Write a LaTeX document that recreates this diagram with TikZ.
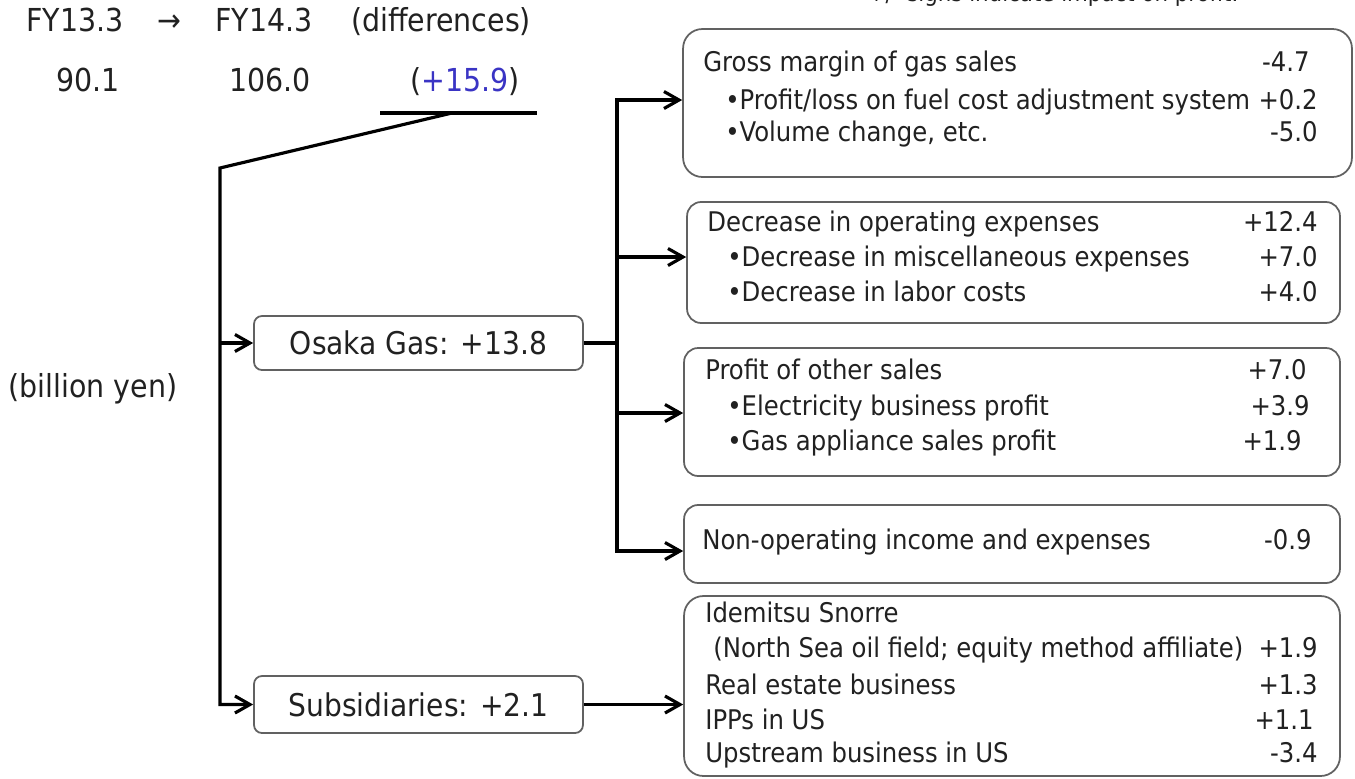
\documentclass[tikz,border=0pt]{standalone}
\usepackage{fontspec}
\setmainfont{DejaVu Sans Condensed}
\usepackage{xcolor}
\usepackage{tikz}
\usetikzlibrary{arrows.meta,positioning,calc}
\definecolor{boxgray}{gray}{0.38}
\definecolor{inkdark}{gray}{0.13}
\definecolor{diffblue}{RGB}{58,52,196}
\tikzset{
  sumbox/.style={draw=boxgray, line width=1pt, rounded corners=4.5pt,
                 minimum width=6.58cm, font=\fontsize{17.8}{21}\selectfont,
                 text=inkdark},
  itembox/.style={draw=boxgray, line width=1pt, rounded corners=8pt,
                  minimum width=13.12cm},
  conn/.style={line width=1.8pt, black},
  arr/.style={conn, -{Straight Barb[length=3mm, width=3.4mm]}},
  rowtxt/.style={font=\fontsize{15.4}{18}\selectfont, text=inkdark, inner sep=0pt},
  hdrtxt/.style={font=\fontsize{18}{21}\selectfont, text=inkdark, inner sep=0pt,
                 anchor=mid},
  notetxt/.style={font=\fontsize{13.5}{16}\selectfont, text=inkdark, inner sep=0pt,
                  anchor=mid}
}

\begin{document}
\begin{tikzpicture}[x=0.02cm, y=-0.02cm]
    \useasboundingbox (0,0) rectangle (1355,778);

    % header
    \node[notetxt] (note) at (1053,-3) {+/- signs indicate impact on profit.};
    \node[hdrtxt] (fya)  at (75,27)  {FY13.3};
    \node[hdrtxt] (fyto) at (169,27) {→};
    \node[hdrtxt] (fyb)  at (264,27) {FY14.3};
    \node[hdrtxt] (dif)  at (441,27) {(differences)};
    \node[hdrtxt] (vala) at (88,87)  {90.1};
    \node[hdrtxt] (valb) at (270,87) {106.0};
    \node[hdrtxt] (vald) at (465,87) {(\textcolor{diffblue}{+15.9})};
    \node[hdrtxt] (unit) at (93,393) {(billion yen)};

    % summary boxes
    \node[sumbox, minimum height=1.08cm] (osk) at (418.5,343)   {Osaka Gas: +13.8};
    \node[sumbox, minimum height=1.14cm] (sbs) at (418.5,704.5) {Subsidiaries: +2.1};

    % item boxes
    \node[itembox, rounded corners=11pt, minimum width=13.38cm, minimum height=2.96cm]
      (gms) at (1017.5,103) {};
    \node[itembox, minimum width=13.06cm, minimum height=2.42cm] (opx) at (1013.5,262.5) {};
    \node[itembox, minimum height=2.56cm] (oth) at (1012,412) {};
    \node[itembox, minimum height=1.56cm] (nop) at (1012,544) {};
    \node[itembox, rounded corners=11pt, minimum height=3.6cm] (aff) at (1012,686) {};

    % rows: gross margin
    \node[rowtxt, anchor=mid west] (gmsa)  at (703,67)   {Gross margin of gas sales};
    \node[rowtxt, anchor=mid east] (gmsav) at (1310,67)  {-4.7};
    \node[rowtxt, anchor=mid west] (gmsb)  at (725,105)  {•Profit/loss on fuel cost adjustment system};
    \node[rowtxt, anchor=mid east] (gmsbv) at (1318,105) {+0.2};
    \node[rowtxt, anchor=mid west] (gmsc)  at (725,137)  {•Volume change, etc.};
    \node[rowtxt, anchor=mid east] (gmscv) at (1318,137) {-5.0};

    % rows: operating expenses
    \node[rowtxt, anchor=mid west] (opxa)  at (707,227)  {Decrease in operating expenses};
    \node[rowtxt, anchor=mid east] (opxav) at (1318,227) {+12.4};
    \node[rowtxt, anchor=mid west] (opxb)  at (727,262)  {•Decrease in miscellaneous expenses};
    \node[rowtxt, anchor=mid east] (opxbv) at (1318,262) {+7.0};
    \node[rowtxt, anchor=mid west] (opxc)  at (727,297)  {•Decrease in labor costs};
    \node[rowtxt, anchor=mid east] (opxcv) at (1318,297) {+4.0};

    % rows: other sales
    \node[rowtxt, anchor=mid west] (otha)  at (705,375)  {Profit of other sales};
    \node[rowtxt, anchor=mid east] (othav) at (1307,375) {+7.0};
    \node[rowtxt, anchor=mid west] (othb)  at (727,411)  {•Electricity business profit};
    \node[rowtxt, anchor=mid east] (othbv) at (1310,411) {+3.9};
    \node[rowtxt, anchor=mid west] (othc)  at (727,446)  {•Gas appliance sales profit};
    \node[rowtxt, anchor=mid east] (othcv) at (1302,446) {+1.9};

    % rows: non-operating
    \node[rowtxt, anchor=mid west] (nopa)  at (702,545)  {Non-operating income and expenses};
    \node[rowtxt, anchor=mid east] (nopav) at (1312,545) {-0.9};

    % rows: subsidiaries
    \node[rowtxt, anchor=mid west] (affa)  at (705,618)  {Idemitsu Snorre};
    \node[rowtxt, anchor=mid west] (affb)  at (713,653)  {(North Sea oil field; equity method affiliate)};
    \node[rowtxt, anchor=mid east] (affbv) at (1318,653) {+1.9};
    \node[rowtxt, anchor=mid west] (affc)  at (705,690)  {Real estate business};
    \node[rowtxt, anchor=mid east] (affcv) at (1318,690) {+1.3};
    \node[rowtxt, anchor=mid west] (affd)  at (705,725)  {IPPs in US};
    \node[rowtxt, anchor=mid east] (affdv) at (1314,725) {+1.1};
    \node[rowtxt, anchor=mid west] (affe)  at (705,758)  {Upstream business in US};
    \node[rowtxt, anchor=mid east] (affev) at (1318,758) {-3.4};

    % left tree
    \coordinate (ull) at (380,113);
    \coordinate (ulr) at (537,113);
    \coordinate (ulm) at (452,113);
    \coordinate (lt)  at (220,168);
    \draw[conn] (ull) -- (ulr);
    \draw[arr] (ulm) -- (lt) |- (sbs.west);
    \draw[arr] (lt |- osk.west) -- (osk.west);

    % right tree
    \coordinate (tka) at (617,100);
    \coordinate (tkb) at (617,257);
    \coordinate (tkc) at (617,413);
    \coordinate (tkd) at (617,551);
    \draw[conn] (osk.east) -- (osk.east -| tka);
    \draw[arr] (tkb) -- (tka) -- (tka -| gms.west);
    \draw[arr] (tkb) -- (tkd) -- (tkd -| nop.west);
    \draw[arr] (tkb) -- (tkb -| opx.west);
    \draw[arr] (tkc) -- (tkc -| oth.west);
    \draw[arr] (sbs.east) -- (sbs.east -| aff.west);
\end{tikzpicture}
\end{document}
